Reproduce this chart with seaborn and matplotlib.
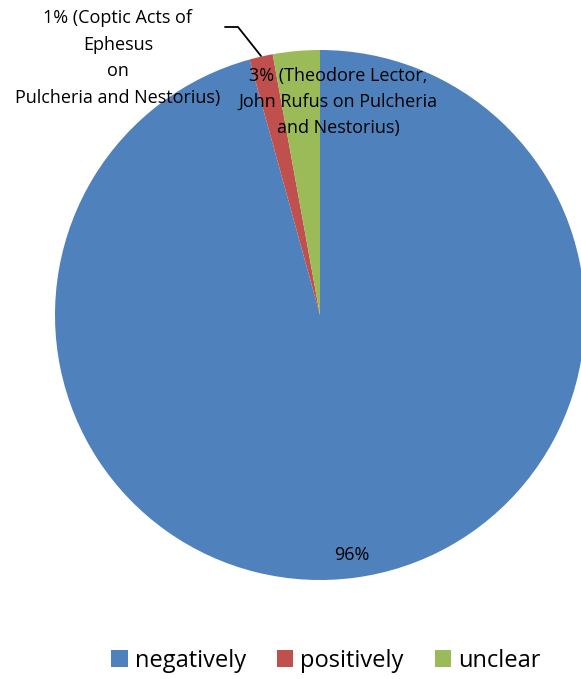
import matplotlib
matplotlib.use("Agg")
import matplotlib.pyplot as plt
import seaborn as sns
from matplotlib.patches import Patch

categories = ["negatively", "positively", "unclear"]
values = [67, 1, 2]
pct_labels = ["96%", "1% (Coptic Acts of\nEphesus\non\nPulcheria and Nestorius)",
              "3% (Theodore Lector,\nJohn Rufus on Pulcheria\nand Nestorius)"]
colors_hex = ["#4F81BD", "#C0504D", "#9BBB59"]

sns.set_theme(style="white")
plt.rcParams['font.family'] = ['Open Sans', 'DejaVu Sans']
palette = sns.color_palette(colors_hex)

W, H = 581, 679
fig = plt.figure(figsize=(W / 100, H / 100), dpi=100)
cx, cy, r = 320, 315, 265
ax = fig.add_axes([(cx - r) / W, 1 - (cy + r) / H, 2 * r / W, 2 * r / H])
ax.axis("off")

wedges, _ = ax.pie(values, colors=palette, startangle=90, counterclock=False,
                   radius=1, center=(0, 0), frame=False,
                   wedgeprops=dict(edgecolor="none", linewidth=0))
ax.set_xlim(-1, 1)
ax.set_ylim(-1, 1)
ax.set_aspect("auto")

def px(x, y):
    return ((x - cx) / r, (cy - y) / r)

fs = 13
ax.text(*px(352, 555), pct_labels[0], ha="center", va="center", fontsize=fs, color="black")
ax.text(*px(338, 102), pct_labels[2], ha="center", va="center", fontsize=fs,
        color="black", linespacing=1.6)
ax.text(*px(118, 58), pct_labels[1], ha="center", va="center", fontsize=fs,
        color="black", linespacing=1.6, clip_on=False)
p1, p2, p3 = px(225, 27), px(238, 27), px(261, 56)
ax.plot([p1[0], p2[0], p3[0]], [p1[1], p2[1], p3[1]], color="black", lw=1.3, clip_on=False)

handles = [Patch(facecolor=c, edgecolor="none") for c in palette]
leg = fig.legend(handles, categories, loc="center", bbox_to_anchor=(326 / W, 1 - 661 / H),
                 ncol=3, frameon=False, fontsize=17, handlelength=0.7, handleheight=0.7,
                 handletextpad=0.3, columnspacing=1.3)
for t in leg.get_texts():
    t.set_color("black")

fig.savefig("out.png", dpi=100)
